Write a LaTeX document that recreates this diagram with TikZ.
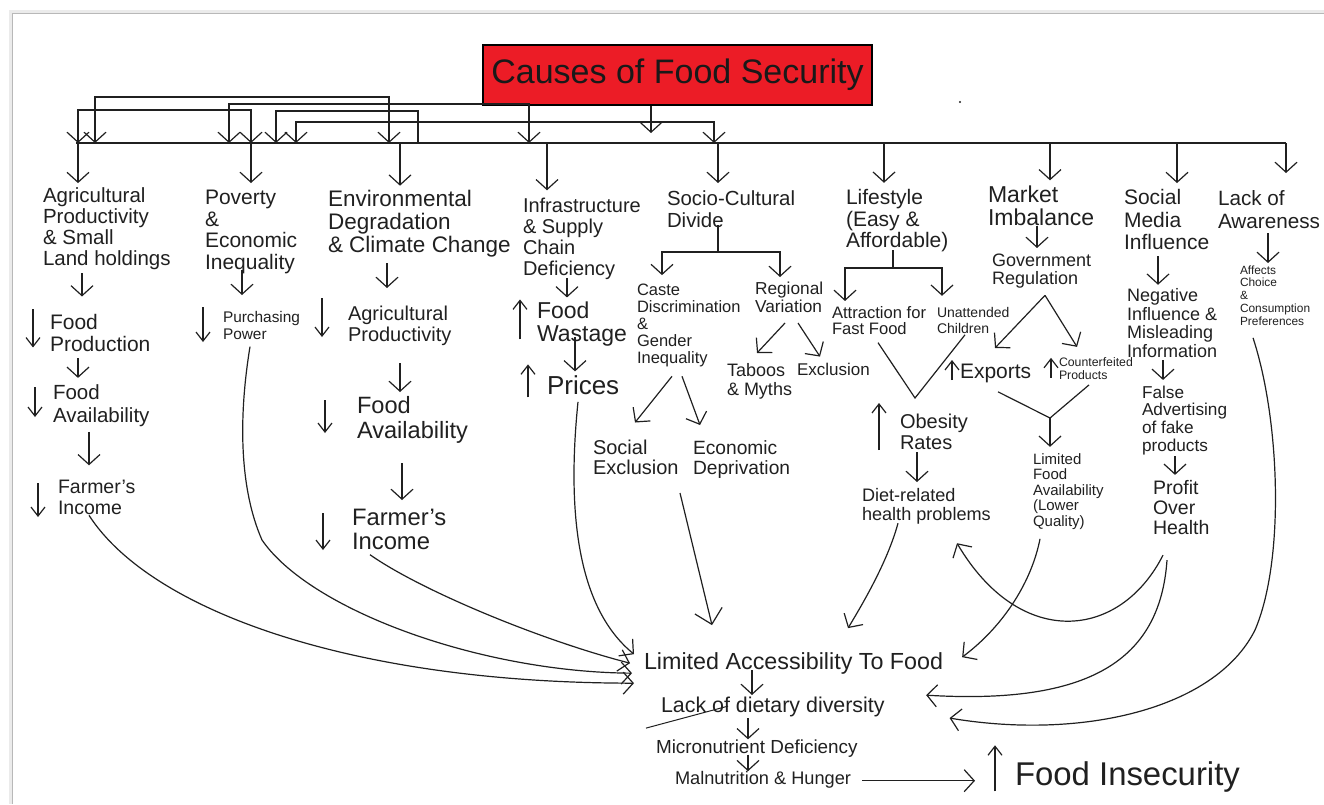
\documentclass[tikz,border=0pt]{standalone}
\usepackage{fontspec}
\setmainfont{Liberation Sans}
\usetikzlibrary{arrows.meta}
\definecolor{ink}{RGB}{32,32,32}
\definecolor{titlered}{RGB}{236,28,38}
\newcommand\fs[2]{\fontsize{#1}{#2}\selectfont}
\newcommand\tl[1]{\begin{tabular}[t]{@{}l@{}}#1\end{tabular}}
\tikzset{
  lbl/.style={inner sep=0pt, outer sep=0pt, anchor=base west, text=ink},
  con/.style={draw=ink, line width=1.2pt},
  arr/.style={con, -{Straight Barb[length=10pt,width=22pt]}},
  arrL/.style={con, -{Straight Barb[length=14pt,width=28pt]}},
  ind/.style={con, -{Straight Barb[length=9pt,width=14pt]}},
  brk/.style={con, {Straight Barb[length=10pt,width=22pt]}-{Straight Barb[length=10pt,width=22pt]}},
  brkL/.style={con, {Straight Barb[length=10pt,width=22pt]}-},
}
\begin{document}
\begin{tikzpicture}[x=1pt,y=-1pt]
\useasboundingbox (0,0) rectangle (1324,804);
% sheet edge
\draw[black!8, line width=3pt] (10,804) -- (10,11) -- (1324,11);
\draw[black!28, line width=0.8pt] (12,804) -- (12,13) -- (1324,13);

% title
\node[draw=black, line width=1.8pt, fill=titlered, minimum width=389pt, minimum height=60pt,
      inner sep=0pt, font=\fs{34}{34}, text=black!90] (title) at (677.5,75) {Causes of Food Security};
\fill[ink] (960,102) circle (1.1pt);

% distribution bus
\coordinate (busL) at (76,143);
\coordinate (busR) at (1286,143);
\draw[con] (busL) -- (busR);
\draw[arr, shorten >=10pt] (title.south -| 651,0) -- (busL -| 651,0);
\draw[brk] (busL -| 95,0) -- ++(0,-46) -| (busL -| 389,0);
\draw[brk] (busL -| 78,0) -- ++(0,-33) -| (busL -| 251,0);
\draw[brk] (busL -| 229,0) -- ++(0,-39) -| (busL -| 529,0);
\draw[brkL] (busL -| 276,0) -- ++(0,-32) -| (busL -| 418,0);
\draw[brk] (busL -| 296,0) -- ++(0,-21) -| (busL -| 714,0);

% headings
\node[lbl, font=\fs{20.5}{21.3}] (ag1) at (43,202) {\tl{Agricultural\\Productivity\\\& Small\\Land holdings}};
\node[lbl, font=\fs{21}{21.7}] (pov1) at (205,204.5) {\tl{Poverty\\\&\\Economic\\Inequality}};
\node[lbl, font=\fs{22.5}{23}] (env1) at (328,206) {\tl{Environmental\\Degradation\\\& Climate Change}};
\node[lbl, font=\fs{20}{21}] (inf1) at (523,212) {\tl{Infrastructure\\\& Supply\\Chain\\Deficiency}};
\node[lbl, font=\fs{20.4}{22}] (soc1) at (667,205) {\tl{Socio-Cultural\\Divide}};
\node[lbl, font=\fs{21}{21.5}] (life) at (846,204.5) {\tl{Lifestyle\\(Easy \&\\Affordable)}};
\node[lbl, font=\fs{23}{23}] (mkt) at (988,202) {\tl{Market\\Imbalance}};
\node[lbl, font=\fs{21}{22.5}] (smi) at (1124,204.5) {\tl{Social\\Media\\Influence}};
\node[lbl, font=\fs{20.7}{23}] (lack) at (1218,205.5) {\tl{Lack of\\Awareness}};

\draw[arr, shorten >=4pt] (busL -| 78,0) -- (ag1.north -| 78,0);
\draw[arr, shorten >=6.3pt] (busL -| 251,0) -- (pov1.north -| 251,0);
\draw[arr, shorten >=4pt] (busL -| 400,0) -- (env1.north -| 400,0);
\draw[arr, shorten >=7pt] (busL -| 547,0) -- (inf1.north -| 547,0);
\draw[arr, shorten >=6.6pt] (busL -| 718,0) -- (soc1.north -| 718,0);
\draw[arr, shorten >=6.5pt] (busL -| 884,0) -- (life.north -| 884,0);
\draw[arr, shorten >=5pt] (busL -| 1050,0) -- (mkt.north -| 1050,0);
\draw[arr, shorten >=5.7pt] (busL -| 1177,0) -- (smi.north -| 1177,0);
\draw[arr, shorten >=16.4pt] (busR) -- (lack.north -| busR);

% agricultural productivity chain
\node[lbl, font=\fs{21}{21}] (ag2) at (50,329.5) {\tl{Food\\Production}};
\node[lbl, font=\fs{20.5}{23}] (ag3) at (53,399) {\tl{Food\\Availability}};
\node[lbl, font=\fs{19.5}{21}] (ag4) at (58,493) {\tl{Farmer’s\\Income}};
\draw[arr, shorten <=1pt, shorten >=17.8pt] (ag1.south -| 82,0) -- (ag2.north -| 82,0);
\draw[arr, shorten <=1pt, shorten >=5pt] (ag2.south -| 78,0) -- (ag3.north -| 78,0);
\draw[arr, shorten <=3pt, shorten >=13pt] (ag3.south -| 89,0) -- (ag4.north -| 89,0);
\draw[ind] ([shift={(-17,-4.8)}]ag2.north west) -- ++(0,38);
\draw[ind] ([shift={(-18,4.1)}]ag3.north west) -- ++(0,30);
\draw[ind] ([shift={(-20,4.7)}]ag4.north west) -- ++(0,34);

% poverty chain
\node[lbl, font=\fs{15.4}{17}] (pov2) at (223,322.5) {\tl{Purchasing\\Power}};
\draw[arr, shorten <=-6pt, shorten >=15.6pt] (pov1.south -| 242,0) -- (pov2.north -| 242,0);
\draw[ind] ([shift={(-20,-3.6)}]pov2.north west) -- ++(0,35);

% environment chain
\node[lbl, font=\fs{20}{21}] (env2) at (348,320) {\tl{Agricultural\\Productivity}};
\node[lbl, font=\fs{23.6}{25}] (env3) at (357,413.5) {\tl{Food\\Availability}};
\node[lbl, font=\fs{23.8}{24}] (env4) at (352,525.5) {\tl{Farmer’s\\Income}};
\draw[arr, shorten <=4pt, shorten >=17.3pt] (env1.south -| 387,0) -- (env2.north -| 387,0);
\draw[arr, shorten <=15.7pt, shorten >=4pt] (env2.south -| 400,0) -- (env3.north -| 400,0);
\draw[arr, shorten <=17pt, shorten >=8.7pt] (env3.south -| 402,0) -- (env4.north -| 402,0);
\draw[ind] ([shift={(-26,-7.3)}]env2.north west) -- ++(0,39);
\draw[ind] ([shift={(-32,4)}]env3.north west) -- ++(0,33);
\draw[ind] ([shift={(-29,4.3)}]env4.north west) -- ++(0,37);

% infrastructure chain
\node[lbl, font=\fs{23}{23}] (inf2) at (537,318) {\tl{Food\\Wastage}};
\node[lbl, font=\fs{26}{26}] (inf3) at (547,394) {\tl{Prices}};
\draw[arr, shorten <=-3.3pt, shorten >=3.9pt] (inf1.south -| 567,0) -- (inf2.north -| 567,0);
\draw[arr, shorten <=-10.9pt, shorten >=3.8pt] (inf2.south -| 575,0) -- (inf3.north -| 575,0);
\draw[ind] ([shift={(-17,38.1)}]inf2.north west) -- ++(0,-40);
\draw[ind] ([shift={(-19,22.2)}]inf3.north west) -- ++(0,-33);

% socio-cultural divide
\node[lbl, font=\fs{16.5}{17}] (caste) at (637,295) {\tl{Caste\\Discrimination\\\&\\Gender\\Inequality}};
\node[lbl, font=\fs{17.3}{18}] (reg) at (755,294) {\tl{Regional\\Variation}};
\node[lbl, font=\fs{18}{19}] (taboo) at (727,376.5) {\tl{Taboos\\\& Myths}};
\node[lbl, font=\fs{17}{17}] (excl) at (797,375) {\tl{Exclusion}};
\node[lbl, font=\fs{20}{20}] (socex) at (593,454) {\tl{Social\\Exclusion}};
\node[lbl, font=\fs{19.2}{20}] (ecodep) at (693,454) {\tl{Economic\\Deprivation}};
\coordinate (socj) at (718,252);
\draw[con, shorten <=-8.6pt] (soc1.south -| socj) -- (socj);
\draw[arr, shorten >=8pt] (socj) -| (caste.north -| 662,0);
\draw[arr, shorten >=4.4pt] (socj) -| (reg.north -| 780,0);
\draw[arr] ([shift={(30,5.6)}]reg.south west) -- ([shift={(30,-10.2)}]taboo.north west);
\draw[arr] ([shift={(43,5.6)}]reg.south west) -- ([shift={(23,-6.1)}]excl.north west);
\draw[arr] ([shift={(35,8)}]caste.south west) -- ([shift={(42,-17)}]socex.north west);
\draw[arr] ([shift={(45,8)}]caste.south west) -- ([shift={(7,-15)}]ecodep.north west);

% lifestyle
\node[lbl, font=\fs{16.6}{16}] (fast) at (832,318) {\tl{Attraction for\\Fast Food}};
\node[lbl, font=\fs{14}{16}] (unatt) at (937,317) {\tl{Unattended\\Children}};
\node[lbl, font=\fs{20}{21}] (obes) at (900,428) {\tl{Obesity\\Rates}};
\node[lbl, font=\fs{18.1}{19}] (diet) at (862,501.5) {\tl{Diet-related\\health problems}};
\coordinate (lifej) at (893,268);
\draw[con, shorten <=-4pt] (life.south -| lifej) -- (lifej);
\draw[arr] (lifej) -| ([shift={(13,-5)}]fast.north west);
\draw[arr] (lifej) -| ([shift={(5,-10)}]unatt.north west);
\coordinate (obv) at (915,398);
\draw[con] ([shift={(46,3)}]fast.south west) -- (obv) -- ([shift={(28,-3)}]unatt.south west);
\draw[arr, shorten <=-3.3pt, shorten >=6.2pt] (obes.south -| 917,0) -- (diet.north -| 917,0);
\draw[ind] ([shift={(-21,36.7)}]obes.north west) -- ++(0,-47);

% market imbalance
\node[lbl, font=\fs{18}{18}] (gov) at (992,266.5) {\tl{Government\\Regulation}};
\node[lbl, font=\fs{21}{21}] (expo) at (960,378.5) {\tl{Exports}};
\node[lbl, font=\fs{12.3}{12.5}] (cnt) at (1059,366.5) {\tl{Counterfeited\\Products}};
\node[lbl, font=\fs{15}{15.25}] (lfa) at (1033,464.5) {\tl{Limited\\Food\\Availability\\(Lower\\Quality)}};
\draw[arr, shorten <=-6.9pt, shorten >=5.9pt] (mkt.south -| 1037,0) -- (gov.north -| 1037,0);
\draw[arr] ([shift={(53,5)}]gov.south west) -- ([shift={(35,-15.8)}]expo.north west);
\draw[arr] ([shift={(53,5)}]gov.south west) -- ([shift={(18,-10.75)}]cnt.north west);
\draw[ind] ([shift={(-8,16.2)}]expo.north west) -- ++(0,-20);
\draw[ind] ([shift={(-8,20.25)}]cnt.north west) -- ++(0,-20);
\coordinate (mkty) at (1050,418);
\draw[con] ([shift={(38,7)}]expo.south west) -- (mkty) -- ([shift={(30,2)}]cnt.south west);
\draw[arr, shorten >=6.8pt] (mkty) -- (lfa.north -| mkty);

% social media
\node[lbl, font=\fs{18}{18.3}] (neg) at (1127,301.5) {\tl{Negative\\Influence \&\\Misleading\\Information}};
\node[lbl, font=\fs{17.2}{17.7}] (fadv) at (1142,398) {\tl{False\\Advertising\\of fake\\products}};
\node[lbl, font=\fs{19.5}{20}] (profit) at (1153,494) {\tl{Profit\\Over\\Health}};
\draw[arr, shorten >=3.7pt] (smi.south -| 1158,0) -- (neg.north -| 1158,0);
\draw[arr, shorten <=-2.4pt, shorten >=5.6pt] (neg.south -| 1163,0) -- (fadv.north -| 1163,0);
\draw[arr, shorten <=-0.6pt, shorten >=5pt] (fadv.south -| 1175,0) -- (profit.north -| 1175,0);

% awareness
\node[lbl, font=\fs{11.9}{12.75}] (aff) at (1240,274) {\tl{Affects\\Choice\\\&\\Consumption\\Preferences}};
\draw[arr, shorten <=-2.4pt, shorten >=2.1pt] (lack.south -| 1268,0) -- (aff.north -| 1268,0);

% outcomes
\node[lbl, font=\fs{23.3}{24}] (lim) at (644,669) {\tl{Limited Accessibility To Food}};
\node[lbl, font=\fs{21.4}{22}] (ldd) at (661,712.5) {\tl{Lack of dietary diversity}};
\node[lbl, font=\fs{18.9}{19}] (micro) at (656,753) {\tl{Micronutrient Deficiency}};
\node[lbl, font=\fs{18.2}{19}] (maln) at (675,784.5) {\tl{Malnutrition \& Hunger}};
\node[lbl, font=\fs{32.9}{33}] (finsec) at (1015,785) {\tl{Food Insecurity}};
\draw[con, line width=1pt] ([shift={(-15,9)}]ldd.south west) -- ([shift={(67,-13)}]ldd.south west);
\draw[arr, shorten <=-6pt, shorten >=2pt] (lim.south -| 752,0) -- (ldd.north -| 752,0);
\draw[arr, shorten <=-1pt] (ldd.south -| 748,0) -- (micro.north -| 748,0);
\draw[arr, shorten <=-4pt] (micro.south -| 748,0) -- (maln.north -| 748,0);
\draw[arr, shorten <=11pt, shorten >=40pt] (maln.east) -- (maln.east -| finsec.west);
\draw[ind] ([shift={(-20,30.1)}]finsec.north west) -- ++(0,-46);

% feeds into limited accessibility
\draw[arr] ([shift={(31,-5)}]ag4.south west) .. controls (150,610) and (350,683) .. ([shift={(-10,19)}]lim.west);
\draw[arr] ([shift={(27,2)}]pov2.south west) .. controls (238,420) and (240,490) .. (262,540)
  .. controls (310,610) and (480,672) .. ([shift={(-12,9)}]lim.west);
\draw[arr] ([shift={(18,-2)}]env4.south west) .. controls (420,590) and (540,640) .. ([shift={(-14,-1)}]lim.west);
\draw[arr] ([shift={(31,0)}]inf3.south west) .. controls (566,520) and (580,610) .. ([shift={(-10,-10)}]lim.west);
\draw[arrL] ([shift={(-13,13)}]ecodep.south west) -- ([shift={(68,-27)}]lim.north west);
\draw[arr] ([shift={(36,-3)}]diet.south west) .. controls (888,560) and (865,600) .. ([shift={(204,-24)}]lim.north west);
\draw[arr] ([shift={(7,8)}]lfa.south west) .. controls (1032,580) and (1005,625) .. ([shift={(19,-7)}]lim.east);
\draw[arr] ([shift={(10,15)}]profit.south west) .. controls (1120,640) and (1020,650) .. ([shift={(95,17)}]diet.south west);
\draw[arr] ([shift={(14,20)}]profit.south west) .. controls (1160,660) and (1090,705) .. ([shift={(-17,31)}]lim.east);
\draw[arr] ([shift={(13,9)}]aff.south west) .. controls (1280,420) and (1285,560) .. (1255,630)
  .. controls (1215,710) and (1080,740) .. ([shift={(65,10)}]ldd.east);
\end{tikzpicture}
\end{document}
